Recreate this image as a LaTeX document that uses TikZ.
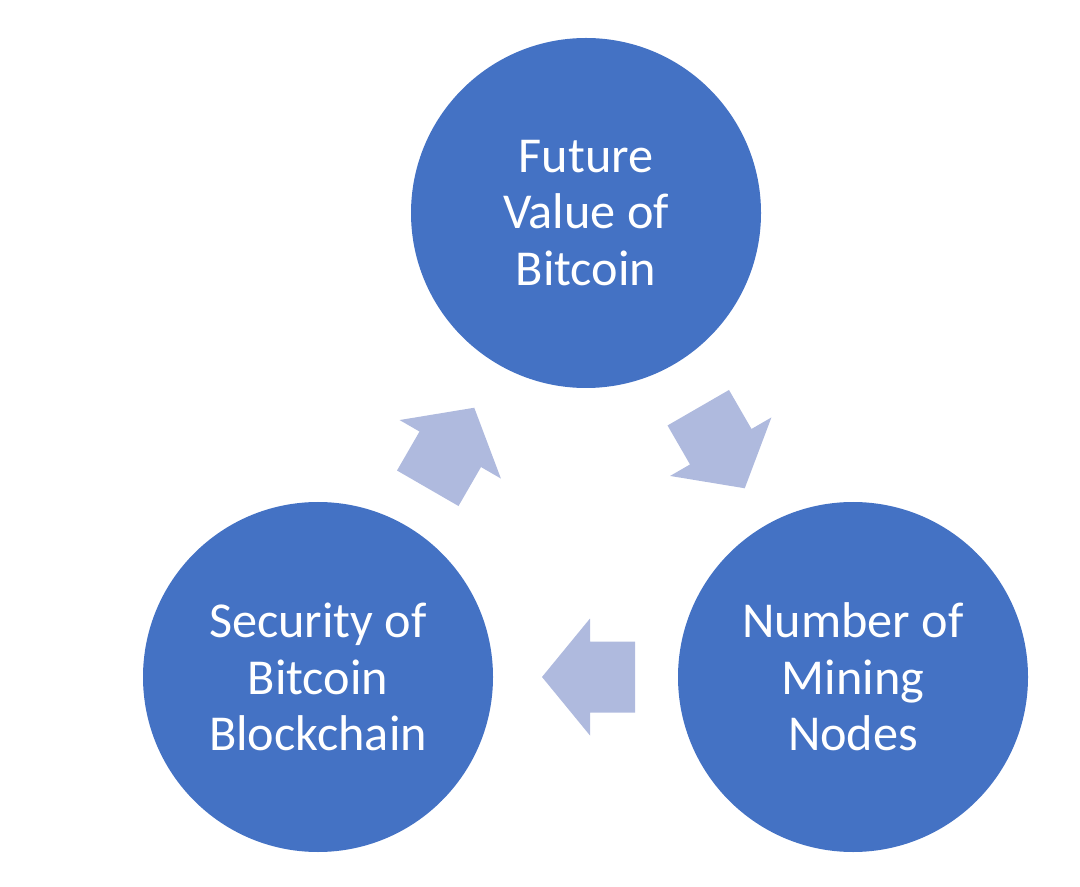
\documentclass[tikz,border=0pt]{standalone}
\usepackage{fontspec}
\setmainfont{Carlito}
\usetikzlibrary{calc}
\definecolor{circblue}{RGB}{68,114,196}
\definecolor{arrblue}{RGB}{175,186,222}
\tikzset{
    bignode/.style = {circle, fill=circblue, draw=none, minimum size=3.5cm, inner sep=0pt, align=center, text=white, font=\fontsize{14.3}{16.1}\selectfont},
    blockarrow/.pic = {
        \fill[arrblue] (-0.465,-0.355) -- (-0.015,-0.355) -- (-0.015,-0.585) -- (0.465,0)
            -- (-0.015,0.585) -- (-0.015,0.355) -- (-0.465,0.355) -- cycle;
    }
}
\begin{document}
\begin{tikzpicture}
\useasboundingbox (0,0) rectangle (10.8,8.86);

\node[bignode] at (5.86, 6.73) (value) {Future\\Value of\\Bitcoin};
\node[bignode] at (8.53, 2.09) (miners) {Number of\\Mining\\Nodes};
\node[bignode] at (3.18, 2.09) (secure) {Security of\\Bitcoin\\Blockchain};

% cycle arrows
\pic[rotate=-60] at ($(value)!0.5!(miners)+(0.02,-0.03)$) {blockarrow};
\pic[rotate=180] at ($(miners)!0.5!(secure)+(0.03,0)$) {blockarrow};
\pic[rotate=60] at ($(secure)!0.5!(value)+(-0.01,-0.03)$) {blockarrow};

\end{tikzpicture}
\end{document}
